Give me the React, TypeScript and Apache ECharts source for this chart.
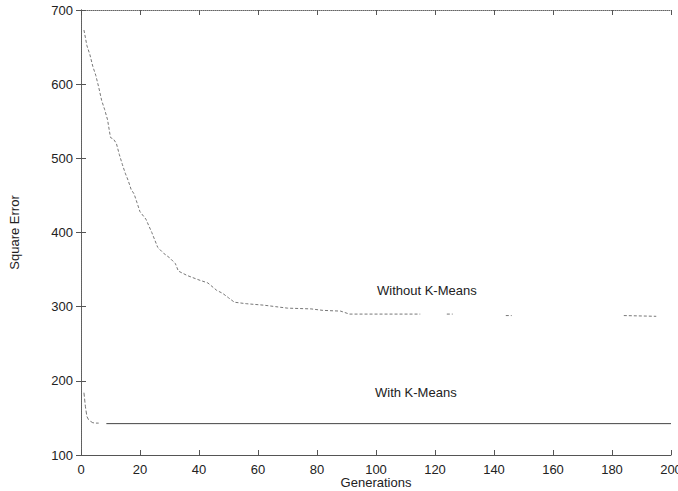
import React, { useEffect, useRef } from "react";
import * as echarts from "echarts";

const xTicksMin = 0;
const xTicksMax = 200;
const xInterval = 20;
const yMin = 100;
const yMax = 700;
const yInterval = 100;

const withoutGen = [1, 2, 3, 4, 5, 6, 7, 8, 9, 10, 11, 12, 13, 14, 15, 16, 17, 18, 19, 20, 22, 24, 26, 28, 30, 32, 33, 36, 40, 43, 46, 48, 50, 52, 56, 62, 66, 70, 78, 82, 88, 91, 100, 115, 116, 124, 126, 127, 144, 146, 147, 184, 195];
const withoutErr: (number | null)[] = [673, 652, 640, 624, 612, 596, 578, 566, 552, 528, 526, 520, 505, 492, 480, 470, 458, 452, 440, 428, 418, 400, 380, 372, 366, 358, 348, 342, 336, 332, 322, 318, 312, 306, 304, 302, 300, 298, 297, 295, 294, 290, 290, 290, null, 290, 290, null, 288, 288, null, 288, 287];

const withEarlyGen = [1, 1.5, 2, 2.5, 3, 4, 5, 6];
const withEarlyErr = [184, 165, 152, 148, 146, 143.5, 143, 143];
const withLateGen = [8.6, 200];
const withLateErr = [142.3, 142.3];

const pairs = (xs: number[], ys: (number | null)[]) =>
  xs.map((x, i) => [x, ys[i] === null ? "-" : ys[i]]);

export default function App() {
  const ref = useRef<HTMLDivElement>(null);
  useEffect(() => {
    document.body.style.margin = "0";
    if (!ref.current) return;
    const chart = echarts.init(ref.current, undefined, { renderer: "svg" });
    const font = "'Liberation Sans', Arial, Helvetica, sans-serif";
    const axisColor = "#555";
    const txt = "#222";
    chart.setOption({
      animation: false,
      backgroundColor: "#fff",
      textStyle: { fontFamily: font },
      grid: { left: 81, right: 7, top: 10, bottom: 36, containLabel: false, outerBoundsMode: "none" },
      xAxis: [
        {
          type: "value",
          min: xTicksMin,
          max: xTicksMax,
          interval: xInterval,
          position: "bottom",
          axisLine: { lineStyle: { color: axisColor, width: 1 } },
          axisTick: { inside: true, length: 5, lineStyle: { color: axisColor } },
          axisLabel: { margin: 8, fontSize: 13, color: txt, fontFamily: font },
          splitLine: { show: false },
          name: "Generations",
          nameLocation: "middle",
          nameGap: 21,
          nameMoveOverlap: false,
          nameTextStyle: { fontSize: 13, color: txt, fontFamily: font, verticalAlign: "top" },
        },
        {
          type: "value",
          min: xTicksMin,
          max: xTicksMax,
          interval: xInterval,
          position: "top",
          axisLine: { lineStyle: { color: "#666", width: 1, type: [1, 1] } },
          axisTick: { inside: true, length: 5, lineStyle: { color: axisColor } },
          axisLabel: { show: false },
          splitLine: { show: false },
        },
      ],
      yAxis: [
        {
          type: "value",
          min: yMin,
          max: yMax,
          interval: yInterval,
          position: "left",
          axisLine: { show: true, lineStyle: { color: axisColor, width: 1 } },
          axisTick: { show: true, inside: true, length: 5, lineStyle: { color: axisColor } },
          axisLabel: { margin: 8, fontSize: 13, color: txt, fontFamily: font },
          splitLine: { show: false },
          name: "Square Error",
          nameLocation: "middle",
          nameGap: 60,
          nameMoveOverlap: false,
          nameTextStyle: { fontSize: 13, color: txt, fontFamily: font },
        },
        {
          type: "value",
          min: yMin,
          max: yMax,
          interval: yInterval,
          position: "right",
          axisLine: { show: true, lineStyle: { color: "#666", width: 1, type: [1, 1] } },
          axisTick: { show: true, inside: true, length: 5, lineStyle: { color: axisColor } },
          axisLabel: { show: false },
          splitLine: { show: false },
        },
      ],
      series: [
        {
          name: "Without K-Means",
          type: "line",
          data: pairs(withoutGen, withoutErr),
          showSymbol: false,
          symbol: "none",
          connectNulls: false,
          lineStyle: { color: "#777", width: 1, type: [3, 2] },
        },
        {
          name: "With K-Means early",
          type: "line",
          data: pairs(withEarlyGen, withEarlyErr),
          showSymbol: false,
          symbol: "none",
          lineStyle: { color: "#777", width: 1, type: [4, 2] },
        },
        {
          name: "With K-Means",
          type: "line",
          data: pairs(withLateGen, withLateErr),
          showSymbol: false,
          symbol: "none",
          lineStyle: { color: "#444", width: 1 },
        },
      ],
      graphic: [
        {
          type: "text",
          left: 377,
          top: 284,
          style: { text: "Without K-Means", fontSize: 13, fill: txt, fontFamily: font },
        },
        {
          type: "text",
          left: 375,
          top: 386,
          style: { text: "With K-Means", fontSize: 13, fill: txt, fontFamily: font },
        },
      ],
    });
    return () => chart.dispose();
  }, []);
  return <div ref={ref} style={{ width: 678, height: 491 }} />;
}
